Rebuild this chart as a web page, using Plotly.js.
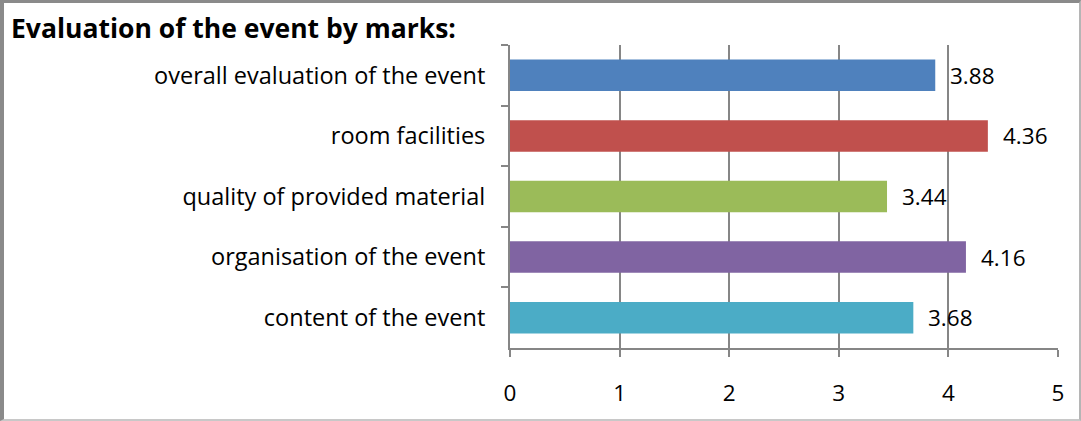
<!DOCTYPE html>
<html><head><meta charset="utf-8">
<script src="https://cdn.plot.ly/plotly-3.0.1.min.js"></script>
<style>
html,body{margin:0;padding:0;background:#fff;}
#wrap{position:relative;width:1081px;height:421px;}
#chart{position:absolute;left:0;top:0;width:1081px;height:421px;}
#frame{position:absolute;left:0;top:0;width:1081px;height:421px;box-sizing:border-box;
border-left:4px solid #8a8a8a;border-top:3px solid #8a8a8a;border-right:2px solid #b5b5b5;border-bottom:2px solid #c8c8c8;pointer-events:none;}
</style></head>
<body><div id="wrap"><div id="chart"></div><div id="frame"></div></div>
<script>
const categories = ["overall evaluation of the event","room facilities","quality of provided material","organisation of the event","content of the event"];
const values = [3.88, 4.36, 3.44, 4.16, 3.68];
const colors = ["#4F81BD","#C0504D","#9BBB59","#8064A2","#4BACC6"];
const xTicks = [0,1,2,3,4,5];

const FONT = "'Open Sans', Lato, sans-serif";

const trace = {
  type: "bar", orientation: "h",
  y: categories, x: values,
  marker: {color: colors},
  hoverinfo: "none", width: 0.52
};

const annotations = categories.map((c,i)=>({
  x: values[i], y: c, xref: "x", yref: "y",
  text: values[i].toFixed(2), showarrow: false,
  xanchor: "left", xshift: 13, yshift: 0,
  font: {family: FONT, size: 22.5, color: "#000"}
}));

const layout = {
  width: 1081, height: 421,
  margin: {l: 510, r: 23, t: 45, b: 73},
  paper_bgcolor: "#fff", plot_bgcolor: "#fff",
  showlegend: false,
  title: {text: "<b>Evaluation of the event by marks:</b>", x: 0, xref: "container", xanchor: "left",
          y: 0.932, yref: "container", yanchor: "middle", pad: {l: 11},
          font: {family: FONT, size: 26.5, color: "#000"}},
  xaxis: {range: [0, 5], tickvals: xTicks, ticktext: xTicks.map(String),
          showgrid: true, gridcolor: "#868686", gridwidth: 2,
          showline: true, linecolor: "#868686", linewidth: 2,
          ticks: "outside", ticklen: 7, tickwidth: 2, tickcolor: "#868686",
          ticklabelstandoff: 17, zeroline: false,
          tickfont: {family: FONT, size: 22.5, color: "#000"}, fixedrange: true},
  yaxis: {type: "category", autorange: "reversed", categoryorder: "array", categoryarray: categories,
          showline: true, linecolor: "#868686", linewidth: 2,
          ticks: "outside", tickson: "boundaries", ticklen: 7, tickwidth: 2, tickcolor: "#868686",
          ticklabelstandoff: 18, showgrid: false,
          tickfont: {family: FONT, size: 23.5, color: "#000"}, fixedrange: true},
  annotations: annotations
};

Plotly.newPlot("chart", [trace], layout, {staticPlot: true, displayModeBar: false});
</script></body></html>
